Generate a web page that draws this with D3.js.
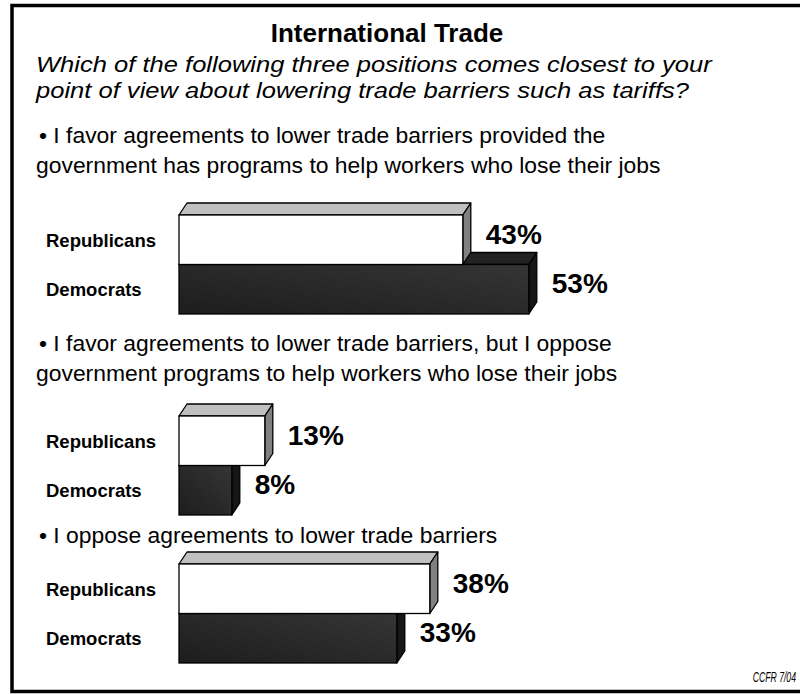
<!DOCTYPE html>
<html>
<head>
<meta charset="utf-8">
<script src="https://cdn.jsdelivr.net/npm/d3@7"></script>
<style>
  html, body { margin: 0; padding: 0; background: #fff; }
  svg { display: block; }
  text { font-family: "Liberation Sans", Arial, sans-serif; fill: #000; }
</style>
</head>
<body>
<svg id="chart" width="800" height="694"></svg>
<script>
// Survey results: share choosing each position, by party (%)
const parties = ["Republicans", "Democrats"];
const republicans = [43, 13, 38];
const democrats = [53, 8, 33];
const positions = [
  ["\u2022  I favor agreements to lower trade barriers provided the",
   "government has programs to help workers who lose their jobs"],
  ["\u2022  I favor agreements to lower trade barriers, but I oppose",
   "government programs to help workers who lose their jobs"],
  ["\u2022  I oppose agreements to lower trade barriers"]
];
const title = "International Trade";
const question = [
  "Which of the following three positions comes closest to your",
  "point of view about lowering trade barriers such as tariffs?"
];
const source = "CCFR 7/04";

// Layout
const W = 800, H = 694;
const sectionLayout = [
  { textY: [143.3, 173.3], barTop: 215 },
  { textY: [351, 381], barTop: 416 },
  { textY: [543], barTop: 564 }
];
const barBand = 99;        // height of the two stacked front faces
const depth = { dx: 8, dy: 12 };

const svg = d3.select("#chart");

const defs = svg.append("defs");
const grad = defs.append("linearGradient").attr("id", "darkFront")
  .attr("x1", "0%").attr("y1", "100%").attr("x2", "100%").attr("y2", "0%");
grad.append("stop").attr("offset", "0%").attr("stop-color", "#1d1d1d");
grad.append("stop").attr("offset", "100%").attr("stop-color", "#353535");

// Frame
svg.append("rect")
  .attr("x", 12).attr("y", 5.5)
  .attr("width", 792).attr("height", 686)
  .attr("fill", "none").attr("stroke", "#000").attr("stroke-width", 3.5);

// Stretch helper for the header lines
function stretch(sel, k) {
  sel.each(function () {
    const len = this.getComputedTextLength();
    d3.select(this).attr("textLength", len * k).attr("lengthAdjust", "spacingAndGlyphs");
  });
}

svg.append("text")
  .attr("x", 387).attr("y", 41.7)
  .attr("text-anchor", "middle")
  .attr("font-size", 26).attr("font-weight", "bold")
  .text(title);

svg.selectAll("text.q").data(question).join("text")
  .attr("class", "q")
  .attr("x", 36).attr("y", (d, i) => 71.7 + i * 26.6)
  .attr("font-size", 22.5).attr("font-style", "italic")
  .text(d => d)
  .call(stretch, 1.135);

const x = d3.scaleLinear().domain([0, 100]).range([179, 179 + 660]);

const values = [republicans, democrats];
const styles = {
  Republicans: { front: "#ffffff", top: "#c0c0c0", side: "#808080" },
  Democrats: { front: "url(#darkFront)", top: "#222222", side: "#161616" }
};

sectionLayout.forEach((lay, s) => {
  const g = svg.append("g");

  g.selectAll("text.pos").data(positions[s]).join("text")
    .attr("class", "pos")
    .attr("x", (d, i) => d.startsWith("\u2022") ? 39 : 36)
    .attr("y", (d, i) => lay.textY[i])
    .attr("font-size", 22)
    .text(d => d)
    .call(stretch, 1.04);

  const y = d3.scaleBand().domain(parties)
    .range([lay.barTop, lay.barTop + barBand]).paddingInner(0);

  // Democrats first so the Republican bar overlaps its top face
  const order = ["Democrats", "Republicans"];
  order.forEach(p => {
    const v = values[parties.indexOf(p)][s];
    const x0 = x(0), x1 = x(v), y0 = y(p), y1 = y(p) + y.bandwidth();
    const st = styles[p];
    const bar = g.append("g");
    bar.append("polygon")
      .attr("points", [[x0, y0], [x0 + depth.dx, y0 - depth.dy], [x1 + depth.dx, y0 - depth.dy], [x1, y0]].join(" "))
      .attr("fill", st.top).attr("stroke", "#000").attr("stroke-width", 1.3).attr("stroke-linejoin", "round");
    bar.append("polygon")
      .attr("points", [[x1, y0], [x1 + depth.dx, y0 - depth.dy], [x1 + depth.dx, y1 - depth.dy], [x1, y1]].join(" "))
      .attr("fill", st.side).attr("stroke", "#000").attr("stroke-width", 1.3).attr("stroke-linejoin", "round");
    bar.append("rect")
      .attr("x", x0).attr("y", y0).attr("width", x1 - x0).attr("height", y1 - y0)
      .attr("fill", st.front).attr("stroke", "#000").attr("stroke-width", 1.3);
  });

  // Party labels
  g.selectAll("text.party").data(parties).join("text")
    .attr("class", "party")
    .attr("x", 46)
    .attr("y", p => y(p) + y.bandwidth() / 2 + 7)
    .attr("font-size", 18.5).attr("font-weight", "bold")
    .text(p => p);

  // Value labels
  g.selectAll("text.val").data(parties).join("text")
    .attr("class", "val")
    .attr("x", p => x(values[parties.indexOf(p)][s]) + depth.dx + 15)
    .attr("y", p => y(p) + y.bandwidth() / 2 + 4)
    .attr("font-size", 28).attr("font-weight", "bold")
    .text(p => values[parties.indexOf(p)][s] + "%");
});

// Source note, horizontally condensed
svg.append("text")
  .attr("transform", "translate(796,682) scale(0.62,1)")
  .attr("text-anchor", "end")
  .attr("font-size", 14).attr("font-style", "italic")
  .text(source);
</script>
</body>
</html>
